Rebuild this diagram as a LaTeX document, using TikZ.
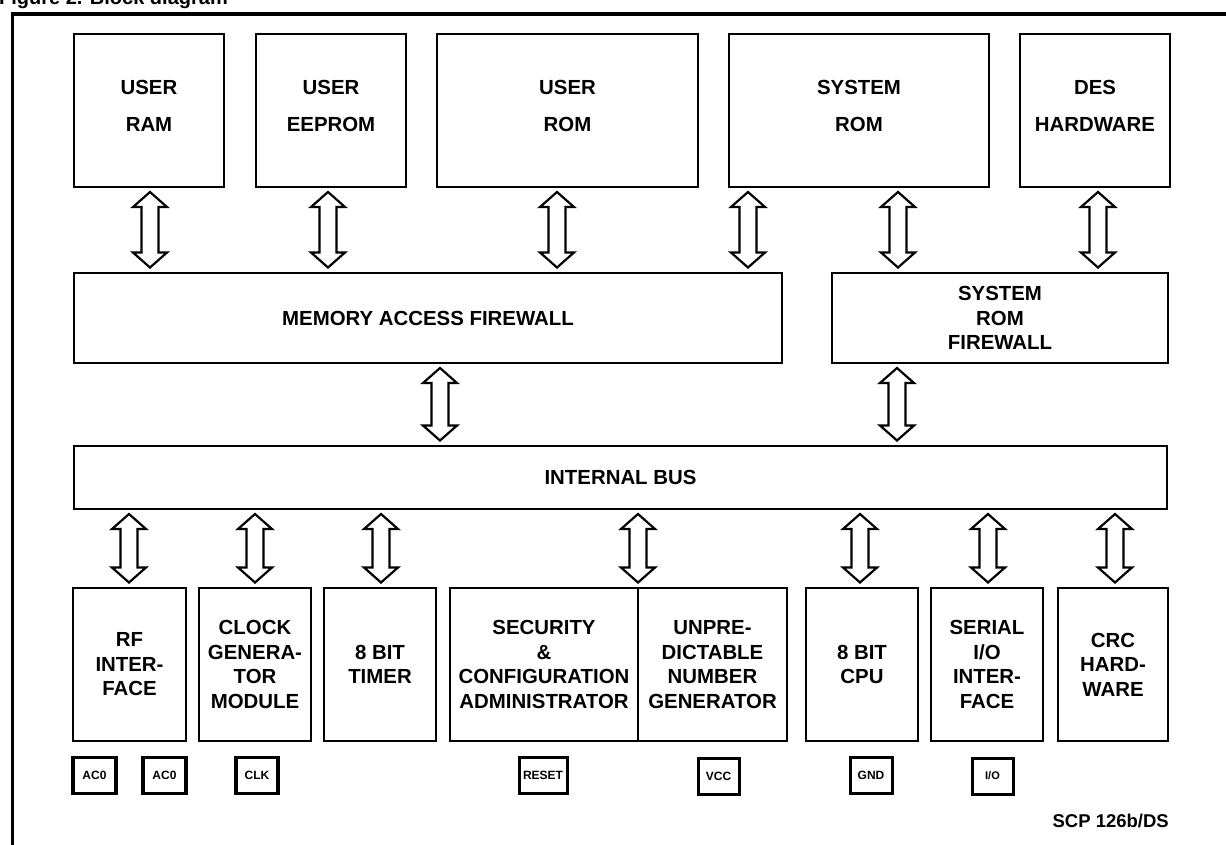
\documentclass[tikz,border=0pt]{standalone}
\usepackage{fontspec}
\setmainfont{Liberation Sans}
\usetikzlibrary{calc}
\begin{document}
\begin{tikzpicture}[x=1pt,y=-1pt,
  box/.style={draw,line width=2.3pt,outer sep=0pt,inner sep=0pt,align=center,
    font=\fontsize{20.4}{24.5}\selectfont\bfseries},
  topbox/.style={draw,line width=2.3pt,outer sep=0pt,inner sep=0pt,minimum height=153pt},
  toplbl/.style={align=center,inner sep=0pt,font=\fontsize{20.4}{37}\selectfont\bfseries},
  botbox/.style={box,minimum height=153pt},
  pin/.style={draw,line width=3pt,outer sep=0pt,inner sep=0pt,minimum height=36pt,
    font=\fontsize{12}{14}\selectfont\bfseries},
  thickpin/.style={pin,line width=3.8pt},
  bus/.style={draw,line width=2.2pt,line join=miter,fill=white,
    to path={let \p1=(\tikztostart),\p2=(\tikztotarget) in
      (\x1,\y1-5pt) -- (\x1+17pt,\y1-20pt) -- (\x1+8.5pt,\y1-20pt) --
      (\x1+8.5pt,\y2+20.5pt) -- (\x1+17pt,\y2+20.5pt) -- (\x1,\y2+5.5pt) --
      (\x1-17pt,\y2+20.5pt) -- (\x1-8.5pt,\y2+20.5pt) --
      (\x1-8.5pt,\y1-20pt) -- (\x1-17pt,\y1-20pt) -- cycle}}]
\useasboundingbox (0,0) rectangle (1226,844);

% title and frame
\node[anchor=base west,inner sep=0pt,font=\fontsize{20}{24}\selectfont\bfseries] (title) at (-1,4) {Figure 2. Block diagram};
\draw[line width=3.5pt] (12.3,846) -- (12.3,14) -- (1228,14);

% top row
\node[topbox,minimum width=150pt,label={[toplbl,yshift=5pt]center:USER\\RAM}] (ram) at (149,110.5) {};
\node[topbox,minimum width=150pt,label={[toplbl,yshift=5pt]center:USER\\EEPROM}] (eep) at (331,110.5) {};
\node[topbox,minimum width=261pt,label={[toplbl,yshift=5pt]center:USER\\ROM}] (urom) at (567.5,110.5) {};
\node[topbox,minimum width=260pt,label={[toplbl,yshift=5pt]center:SYSTEM\\ROM}] (srom) at (859,110.5) {};
\node[topbox,minimum width=150pt,label={[toplbl,yshift=5pt]center:DES\\HARDWARE}] (des) at (1095,110.5) {};

% firewalls and bus
\node[box,minimum width=708pt,minimum height=90pt] (maf) at (428,318) {MEMORY ACCESS FIREWALL};
\node[box,minimum width=336pt,minimum height=90pt] (srf) at (1000,318) {SYSTEM\\ROM\\FIREWALL};
\node[box,minimum width=1093pt,minimum height=63pt] (ibus) at (620.5,477.5) {INTERNAL BUS};

% bottom row
\node[botbox,minimum width=113pt] (rf) at (129.5,664.5) {RF\\INTER-\\FACE};
\node[botbox,minimum width=112pt] (clkgen) at (255,664.5) {CLOCK\\GENERA-\\TOR\\MODULE};
\node[botbox,minimum width=112pt] (tmr) at (380,664.5) {8 BIT\\TIMER};
\node[botbox,minimum width=188pt] (sec) at (544,664.5) {SECURITY\\\&\\CONFIGURATION\\ADMINISTRATOR};
\node[botbox,minimum width=149pt] (unp) at (712.5,664.5) {UNPRE-\\DICTABLE\\NUMBER\\GENERATOR};
\node[botbox,minimum width=112pt] (cpu) at (862,664.5) {8 BIT\\CPU};
\node[botbox,minimum width=112pt] (sio) at (987,664.5) {SERIAL\\I/O\\INTER-\\FACE};
\node[botbox,minimum width=110pt] (crc) at (1113,664.5) {CRC\\HARD-\\WARE};

% arrows top
\draw[bus] (ram.south -| 150,0) to (maf.north -| 150,0);
\draw[bus] (eep.south -| 328,0) to (maf.north -| 328,0);
\draw[bus] (urom.south -| 557,0) to (maf.north -| 557,0);
\draw[bus] (srom.south -| 748,0) to (maf.north -| 748,0);
\draw[bus] (srom.south -| 898,0) to (srf.north -| 898,0);
\draw[bus] (des.south -| 1098,0) to (srf.north -| 1098,0);
% arrows middle
\draw[bus] (maf.south -| 440,0) to (ibus.north -| 440,0);
\draw[bus] (srf.south -| 897,0) to (ibus.north -| 897,0);
% arrows bottom
\draw[bus] (ibus.south -| 129,0) to (rf.north -| 129,0);
\draw[bus] (ibus.south -| 255,0) to (clkgen.north -| 255,0);
\draw[bus] (ibus.south -| 381,0) to (tmr.north -| 381,0);
\draw[bus] (ibus.south -| 638,0) to (sec.north -| 638,0);
\draw[bus] (ibus.south -| 860,0) to (cpu.north -| 860,0);
\draw[bus] (ibus.south -| 988,0) to (sio.north -| 988,0);
\draw[bus] (ibus.south -| 1115,0) to (crc.north -| 1115,0);

% pins
\node[thickpin,minimum width=43pt] (ac0a) at (94.5,775.5) {AC0};
\node[thickpin,minimum width=43pt] (ac0b) at (164.5,775.5) {AC0};
\node[thickpin,minimum width=42pt] (clkp) at (257,775.5) {CLK};
\node[pin,minimum width=48pt] (rst) at (543,775) {RESET};
\node[pin,minimum width=41pt] (vcc) at (718.5,776) {VCC};
\node[pin,minimum width=42pt] (gnd) at (871,775.5) {GND};
\node[pin,minimum width=41pt,font=\fontsize{11}{13}\selectfont\bfseries] (io) at (992.5,776) {I/O};

\node[anchor=base east,inner sep=0pt,font=\fontsize{18.5}{22}\selectfont\bfseries] (scp) at (1169,827) {SCP 126b/DS};
\end{tikzpicture}
\end{document}
